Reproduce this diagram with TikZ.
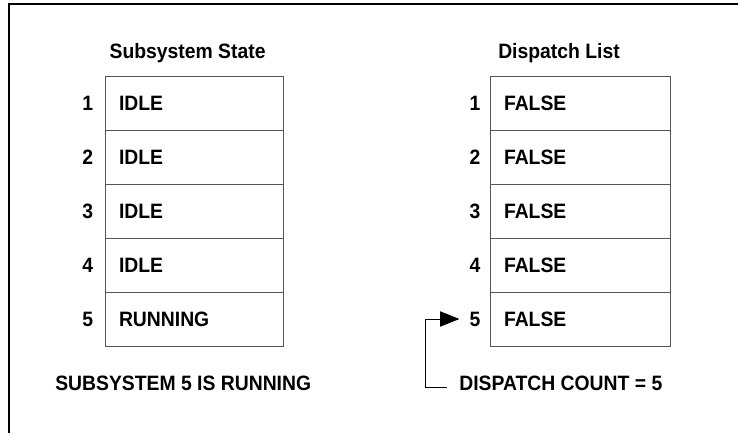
\documentclass[tikz,border=0pt]{standalone}
\usepackage{fontspec}
\setmainfont{Liberation Sans}[FakeStretch=0.93]
\usetikzlibrary{positioning, arrows.meta}
\definecolor{cellgray}{HTML}{555555}

\begin{document}
\begin{tikzpicture}[
  every node/.style={font=\bfseries\fontsize{14.8}{17}\selectfont},
  cell/.style={draw=cellgray, line width=0.7pt, minimum height=1.35cm,
               inner xsep=0.35cm, inner ysep=0pt, align=left},
  rownum/.style={inner sep=0pt},
  note/.style={inner sep=0pt, anchor=west}
]
  \useasboundingbox (0,0) rectangle (18.45,10.825);
  % Outer frame (open at right and bottom)
  \draw[line width=0.8pt] (0.225,0) -- (0.225,10.725) -- (18.45,10.725);
  % Headings
  \node (statetitle) at (4.69,9.5) {Subsystem State};
  \node (listtitle) at (13.975,9.5) {Dispatch List};
  % Subsystem state table
  \foreach \i/\lab in {1/IDLE, 2/IDLE, 3/IDLE, 4/IDLE, 5/RUNNING} {
    \node[cell, text width=3.75cm] (s\i) at (4.85, {8.25-1.35*(\i-1)}) {\lab};
    \node[rownum, left=0.28cm of s\i] (snum\i) {\i};
  }
  % Dispatch list table
  \foreach \i in {1,...,5} {
    \node[cell, text width=3.8cm] (d\i) at (14.5, {8.25-1.35*(\i-1)}) {FALSE};
    \node[rownum, left=0.22cm of d\i] (dnum\i) {\i};
  }
  % Captions
  \node[note] (running) at (1.375,1.25) {SUBSYSTEM 5 IS RUNNING};
  \node[note] (dcount) at (11.475,1.25) {DISPATCH COUNT = 5};
  % Count points at entry 5
  \draw[line width=0.7pt, -{Triangle[length=0.48cm, width=0.38cm]}]
    ([xshift=-0.3cm, yshift=-0.1cm]dcount.west) -- ++(-0.55,0)
    |- ([xshift=-0.25cm]dnum5.west);
\end{tikzpicture}
\end{document}
